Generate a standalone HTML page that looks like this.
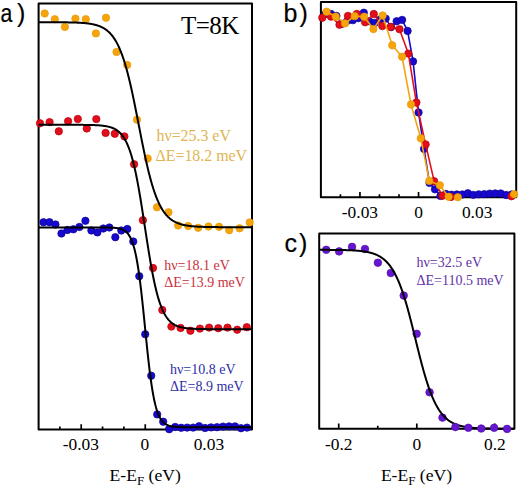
<!DOCTYPE html>
<html><head><meta charset="utf-8"><title>Fermi edge</title>
<style>html,body{margin:0;padding:0;background:#fff;width:520px;height:487px;overflow:hidden}svg{display:block}</style>
</head><body>
<svg width="520" height="487" viewBox="0 0 520 487"><rect width="520" height="487" fill="#fff"/><rect x="38.6" y="3.6" width="213.40" height="425.90" fill="none" stroke="#000" stroke-width="2" stroke-linejoin="round"/><path d="M59.85,429.50 V426.50 M81.20,429.50 V424.30 M102.55,429.50 V426.50 M123.90,429.50 V426.50 M145.25,429.50 V424.30 M166.60,429.50 V426.50 M187.95,429.50 V426.50 M209.30,429.50 V424.30 M230.65,429.50 V426.50" stroke="#000" stroke-width="1.7" fill="none"/><g fill="#F5A40C" stroke="#E89A08" stroke-width="0.7"><circle cx="44.70" cy="13.50" r="3.7"/><circle cx="54.80" cy="19.20" r="3.7"/><circle cx="64.90" cy="26.90" r="3.7"/><circle cx="75.40" cy="18.60" r="3.7"/><circle cx="85.80" cy="19.20" r="3.7"/><circle cx="95.90" cy="33.40" r="3.7"/><circle cx="106.00" cy="17.80" r="3.7"/><circle cx="116.50" cy="52.00" r="3.7"/><circle cx="127.20" cy="65.00" r="3.7"/><circle cx="137.00" cy="119.70" r="3.7"/><circle cx="147.70" cy="158.50" r="3.7"/><circle cx="157.00" cy="207.30" r="3.7"/><circle cx="168.50" cy="212.30" r="3.7"/><circle cx="178.10" cy="225.50" r="3.7"/><circle cx="188.20" cy="226.00" r="3.7"/><circle cx="198.20" cy="227.80" r="3.7"/><circle cx="208.50" cy="226.50" r="3.7"/><circle cx="219.10" cy="226.80" r="3.7"/><circle cx="229.20" cy="230.20" r="3.7"/><circle cx="239.60" cy="228.30" r="3.7"/><circle cx="249.70" cy="222.50" r="3.7"/></g><g fill="#E20E1A" stroke="#B8000E" stroke-width="0.7"><circle cx="40.00" cy="123.30" r="3.7"/><circle cx="49.60" cy="122.10" r="3.7"/><circle cx="58.80" cy="131.30" r="3.7"/><circle cx="68.10" cy="121.20" r="3.7"/><circle cx="77.80" cy="119.00" r="3.7"/><circle cx="86.80" cy="128.50" r="3.7"/><circle cx="96.30" cy="119.10" r="3.7"/><circle cx="105.60" cy="132.90" r="3.7"/><circle cx="114.80" cy="133.80" r="3.7"/><circle cx="124.40" cy="136.40" r="3.7"/><circle cx="134.10" cy="164.30" r="3.7"/><circle cx="142.90" cy="220.20" r="3.7"/><circle cx="153.00" cy="268.00" r="3.7"/><circle cx="162.30" cy="310.00" r="3.7"/><circle cx="171.40" cy="326.60" r="3.7"/><circle cx="180.60" cy="328.00" r="3.7"/><circle cx="190.40" cy="330.70" r="3.7"/><circle cx="199.90" cy="328.60" r="3.7"/><circle cx="209.10" cy="327.60" r="3.7"/><circle cx="218.30" cy="328.20" r="3.7"/><circle cx="227.50" cy="327.60" r="3.7"/><circle cx="237.20" cy="329.70" r="3.7"/><circle cx="246.80" cy="327.20" r="3.7"/></g><g fill="#1608CC" stroke="#10049A" stroke-width="0.7"><circle cx="43.50" cy="222.30" r="3.7"/><circle cx="49.48" cy="222.20" r="3.7"/><circle cx="55.47" cy="224.50" r="3.7"/><circle cx="61.45" cy="233.50" r="3.7"/><circle cx="67.44" cy="230.00" r="3.7"/><circle cx="73.42" cy="229.30" r="3.7"/><circle cx="79.41" cy="227.00" r="3.7"/><circle cx="85.40" cy="220.80" r="3.7"/><circle cx="91.38" cy="230.50" r="3.7"/><circle cx="97.37" cy="232.40" r="3.7"/><circle cx="103.35" cy="228.50" r="3.7"/><circle cx="109.34" cy="227.50" r="3.7"/><circle cx="115.32" cy="237.20" r="3.7"/><circle cx="121.31" cy="230.50" r="3.7"/><circle cx="127.29" cy="229.00" r="3.7"/><circle cx="133.28" cy="241.50" r="3.7"/><circle cx="139.26" cy="276.20" r="3.7"/><circle cx="145.25" cy="334.30" r="3.7"/><circle cx="151.23" cy="375.70" r="3.7"/><circle cx="157.22" cy="414.40" r="3.7"/><circle cx="163.20" cy="421.70" r="3.7"/><circle cx="169.19" cy="429.20" r="3.7"/><circle cx="175.17" cy="427.00" r="3.7"/><circle cx="181.16" cy="427.80" r="3.7"/><circle cx="187.14" cy="427.60" r="3.7"/><circle cx="193.12" cy="427.60" r="3.7"/><circle cx="199.11" cy="426.20" r="3.7"/><circle cx="205.09" cy="428.00" r="3.7"/><circle cx="211.08" cy="427.40" r="3.7"/><circle cx="217.06" cy="427.20" r="3.7"/><circle cx="223.05" cy="426.60" r="3.7"/><circle cx="229.03" cy="426.40" r="3.7"/><circle cx="235.02" cy="426.40" r="3.7"/><circle cx="241.01" cy="428.20" r="3.7"/><circle cx="246.99" cy="427.60" r="3.7"/></g><path d="M38.60,22.21 L39.10,22.21 L39.60,22.21 L40.10,22.21 L40.60,22.21 L41.10,22.21 L41.60,22.21 L42.10,22.21 L42.60,22.21 L43.10,22.21 L43.60,22.22 L44.10,22.22 L44.60,22.22 L45.10,22.22 L45.60,22.22 L46.10,22.22 L46.60,22.22 L47.10,22.22 L47.60,22.22 L48.10,22.22 L48.60,22.23 L49.10,22.23 L49.60,22.23 L50.10,22.23 L50.60,22.23 L51.10,22.23 L51.60,22.23 L52.10,22.24 L52.60,22.24 L53.10,22.24 L53.60,22.24 L54.10,22.24 L54.60,22.25 L55.10,22.25 L55.60,22.25 L56.10,22.25 L56.60,22.26 L57.10,22.26 L57.60,22.26 L58.10,22.26 L58.60,22.27 L59.10,22.27 L59.60,22.28 L60.10,22.28 L60.60,22.28 L61.10,22.29 L61.60,22.29 L62.10,22.30 L62.60,22.30 L63.10,22.31 L63.60,22.31 L64.10,22.32 L64.60,22.32 L65.10,22.33 L65.60,22.34 L66.10,22.34 L66.60,22.35 L67.10,22.36 L67.60,22.37 L68.10,22.38 L68.60,22.38 L69.10,22.39 L69.60,22.40 L70.10,22.41 L70.60,22.43 L71.10,22.44 L71.60,22.45 L72.10,22.46 L72.60,22.48 L73.10,22.49 L73.60,22.50 L74.10,22.52 L74.60,22.54 L75.10,22.55 L75.60,22.57 L76.10,22.59 L76.60,22.61 L77.10,22.63 L77.60,22.65 L78.10,22.68 L78.60,22.70 L79.10,22.73 L79.60,22.75 L80.10,22.78 L80.60,22.81 L81.10,22.84 L81.60,22.88 L82.10,22.91 L82.60,22.95 L83.10,22.99 L83.60,23.03 L84.10,23.07 L84.60,23.11 L85.10,23.16 L85.60,23.21 L86.10,23.26 L86.60,23.31 L87.10,23.37 L87.60,23.43 L88.10,23.49 L88.60,23.56 L89.10,23.63 L89.60,23.70 L90.10,23.78 L90.60,23.86 L91.10,23.94 L91.60,24.03 L92.10,24.12 L92.60,24.22 L93.10,24.32 L93.60,24.43 L94.10,24.54 L94.60,24.66 L95.10,24.79 L95.60,24.92 L96.10,25.05 L96.60,25.20 L97.10,25.35 L97.60,25.51 L98.10,25.68 L98.60,25.85 L99.10,26.03 L99.60,26.23 L100.10,26.43 L100.60,26.64 L101.10,26.86 L101.60,27.10 L102.10,27.34 L102.60,27.60 L103.10,27.87 L103.60,28.15 L104.10,28.45 L104.60,28.76 L105.10,29.08 L105.60,29.42 L106.10,29.78 L106.60,30.15 L107.10,30.54 L107.60,30.95 L108.10,31.38 L108.60,31.83 L109.10,32.30 L109.60,32.79 L110.10,33.30 L110.60,33.84 L111.10,34.40 L111.60,34.99 L112.10,35.60 L112.60,36.24 L113.10,36.91 L113.60,37.61 L114.10,38.34 L114.60,39.09 L115.10,39.89 L115.60,40.71 L116.10,41.57 L116.60,42.47 L117.10,43.40 L117.60,44.37 L118.10,45.37 L118.60,46.42 L119.10,47.51 L119.60,48.64 L120.10,49.81 L120.60,51.03 L121.10,52.29 L121.60,53.60 L122.10,54.95 L122.60,56.35 L123.10,57.80 L123.60,59.29 L124.10,60.84 L124.60,62.43 L125.10,64.07 L125.60,65.76 L126.10,67.50 L126.60,69.29 L127.10,71.13 L127.60,73.01 L128.10,74.95 L128.60,76.93 L129.10,78.96 L129.60,81.03 L130.10,83.15 L130.60,85.32 L131.10,87.52 L131.60,89.77 L132.10,92.05 L132.60,94.37 L133.10,96.73 L133.60,99.11 L134.10,101.53 L134.60,103.98 L135.10,106.45 L135.60,108.94 L136.10,111.45 L136.60,113.98 L137.10,116.52 L137.60,119.07 L138.10,121.63 L138.60,124.19 L139.10,126.75 L139.60,129.31 L140.10,131.86 L140.60,134.41 L141.10,136.94 L141.60,139.46 L142.10,141.96 L142.60,144.44 L143.10,146.89 L143.60,149.32 L144.10,151.72 L144.60,154.09 L145.10,156.42 L145.60,158.72 L146.10,160.98 L146.60,163.21 L147.10,165.39 L147.60,167.52 L148.10,169.62 L148.60,171.66 L149.10,173.66 L149.60,175.62 L150.10,177.52 L150.60,179.38 L151.10,181.19 L151.60,182.95 L152.10,184.66 L152.60,186.32 L153.10,187.93 L153.60,189.50 L154.10,191.01 L154.60,192.48 L155.10,193.89 L155.60,195.27 L156.10,196.59 L156.60,197.87 L157.10,199.10 L157.60,200.29 L158.10,201.44 L158.60,202.55 L159.10,203.61 L159.60,204.64 L160.10,205.62 L160.60,206.57 L161.10,207.48 L161.60,208.35 L162.10,209.19 L162.60,209.99 L163.10,210.76 L163.60,211.50 L164.10,212.21 L164.60,212.89 L165.10,213.55 L165.60,214.17 L166.10,214.77 L166.60,215.34 L167.10,215.88 L167.60,216.41 L168.10,216.91 L168.60,217.38 L169.10,217.84 L169.60,218.28 L170.10,218.70 L170.60,219.09 L171.10,219.47 L171.60,219.84 L172.10,220.18 L172.60,220.52 L173.10,220.83 L173.60,221.13 L174.10,221.42 L174.60,221.69 L175.10,221.96 L175.60,222.21 L176.10,222.44 L176.60,222.67 L177.10,222.89 L177.60,223.09 L178.10,223.29 L178.60,223.48 L179.10,223.65 L179.60,223.82 L180.10,223.99 L180.60,224.14 L181.10,224.29 L181.60,224.43 L182.10,224.56 L182.60,224.69 L183.10,224.81 L183.60,224.93 L184.10,225.04 L184.60,225.14 L185.10,225.24 L185.60,225.33 L186.10,225.42 L186.60,225.51 L187.10,225.59 L187.60,225.67 L188.10,225.74 L188.60,225.81 L189.10,225.88 L189.60,225.95 L190.10,226.01 L190.60,226.06 L191.10,226.12 L191.60,226.17 L192.10,226.22 L192.60,226.27 L193.10,226.31 L193.60,226.36 L194.10,226.40 L194.60,226.44 L195.10,226.47 L195.60,226.51 L196.10,226.54 L196.60,226.58 L197.10,226.61 L197.60,226.63 L198.10,226.66 L198.60,226.69 L199.10,226.71 L199.60,226.74 L200.10,226.76 L200.60,226.78 L201.10,226.80 L201.60,226.82 L202.10,226.84 L202.60,226.86 L203.10,226.87 L203.60,226.89 L204.10,226.90 L204.60,226.92 L205.10,226.93 L205.60,226.95 L206.10,226.96 L206.60,226.97 L207.10,226.98 L207.60,226.99 L208.10,227.00 L208.60,227.01 L209.10,227.02 L209.60,227.03 L210.10,227.04 L210.60,227.05 L211.10,227.05 L211.60,227.06 L212.10,227.07 L212.60,227.07 L213.10,227.08 L213.60,227.09 L214.10,227.09 L214.60,227.10 L215.10,227.10 L215.60,227.11 L216.10,227.11 L216.60,227.12 L217.10,227.12 L217.60,227.12 L218.10,227.13 L218.60,227.13 L219.10,227.13 L219.60,227.14 L220.10,227.14 L220.60,227.14 L221.10,227.15 L221.60,227.15 L222.10,227.15 L222.60,227.15 L223.10,227.16 L223.60,227.16 L224.10,227.16 L224.60,227.16 L225.10,227.16 L225.60,227.17 L226.10,227.17 L226.60,227.17 L227.10,227.17 L227.60,227.17 L228.10,227.17 L228.60,227.17 L229.10,227.18 L229.60,227.18 L230.10,227.18 L230.60,227.18 L231.10,227.18 L231.60,227.18 L232.10,227.18 L232.60,227.18 L233.10,227.18 L233.60,227.18 L234.10,227.19 L234.60,227.19 L235.10,227.19 L235.60,227.19 L236.10,227.19 L236.60,227.19 L237.10,227.19 L237.60,227.19 L238.10,227.19 L238.60,227.19 L239.10,227.19 L239.60,227.19 L240.10,227.19 L240.60,227.19 L241.10,227.19 L241.60,227.19 L242.10,227.19 L242.60,227.19 L243.10,227.19 L243.60,227.19 L244.10,227.19 L244.60,227.19 L245.10,227.20 L245.60,227.20 L246.10,227.20 L246.60,227.20 L247.10,227.20 L247.60,227.20 L248.10,227.20 L248.60,227.20 L249.10,227.20 L249.60,227.20 L250.10,227.20 L250.60,227.20 L251.10,227.20 L251.60,227.20" stroke="#000" stroke-width="2" fill="none"/><path d="M38.60,124.80 L39.10,124.80 L39.60,124.80 L40.10,124.80 L40.60,124.80 L41.10,124.80 L41.60,124.80 L42.10,124.80 L42.60,124.80 L43.10,124.80 L43.60,124.80 L44.10,124.80 L44.60,124.80 L45.10,124.80 L45.60,124.80 L46.10,124.80 L46.60,124.80 L47.10,124.80 L47.60,124.80 L48.10,124.80 L48.60,124.80 L49.10,124.80 L49.60,124.80 L50.10,124.80 L50.60,124.80 L51.10,124.80 L51.60,124.80 L52.10,124.80 L52.60,124.80 L53.10,124.80 L53.60,124.80 L54.10,124.80 L54.60,124.80 L55.10,124.80 L55.60,124.80 L56.10,124.80 L56.60,124.80 L57.10,124.80 L57.60,124.80 L58.10,124.80 L58.60,124.80 L59.10,124.80 L59.60,124.80 L60.10,124.80 L60.60,124.80 L61.10,124.80 L61.60,124.80 L62.10,124.81 L62.60,124.81 L63.10,124.81 L63.60,124.81 L64.10,124.81 L64.60,124.81 L65.10,124.81 L65.60,124.81 L66.10,124.81 L66.60,124.81 L67.10,124.81 L67.60,124.81 L68.10,124.81 L68.60,124.81 L69.10,124.81 L69.60,124.81 L70.10,124.81 L70.60,124.81 L71.10,124.82 L71.60,124.82 L72.10,124.82 L72.60,124.82 L73.10,124.82 L73.60,124.82 L74.10,124.82 L74.60,124.82 L75.10,124.83 L75.60,124.83 L76.10,124.83 L76.60,124.83 L77.10,124.83 L77.60,124.84 L78.10,124.84 L78.60,124.84 L79.10,124.84 L79.60,124.85 L80.10,124.85 L80.60,124.85 L81.10,124.86 L81.60,124.86 L82.10,124.87 L82.60,124.87 L83.10,124.87 L83.60,124.88 L84.10,124.88 L84.60,124.89 L85.10,124.90 L85.60,124.90 L86.10,124.91 L86.60,124.92 L87.10,124.92 L87.60,124.93 L88.10,124.94 L88.60,124.95 L89.10,124.96 L89.60,124.97 L90.10,124.98 L90.60,124.99 L91.10,125.01 L91.60,125.02 L92.10,125.03 L92.60,125.05 L93.10,125.07 L93.60,125.08 L94.10,125.10 L94.60,125.12 L95.10,125.14 L95.60,125.17 L96.10,125.19 L96.60,125.22 L97.10,125.24 L97.60,125.27 L98.10,125.31 L98.60,125.34 L99.10,125.37 L99.60,125.41 L100.10,125.45 L100.60,125.50 L101.10,125.54 L101.60,125.59 L102.10,125.64 L102.60,125.70 L103.10,125.76 L103.60,125.82 L104.10,125.89 L104.60,125.96 L105.10,126.04 L105.60,126.12 L106.10,126.20 L106.60,126.30 L107.10,126.39 L107.60,126.50 L108.10,126.61 L108.60,126.73 L109.10,126.85 L109.60,126.99 L110.10,127.13 L110.60,127.29 L111.10,127.45 L111.60,127.62 L112.10,127.80 L112.60,128.00 L113.10,128.21 L113.60,128.43 L114.10,128.67 L114.60,128.92 L115.10,129.18 L115.60,129.47 L116.10,129.77 L116.60,130.09 L117.10,130.43 L117.60,130.79 L118.10,131.18 L118.60,131.58 L119.10,132.02 L119.60,132.48 L120.10,132.96 L120.60,133.48 L121.10,134.03 L121.60,134.61 L122.10,135.23 L122.60,135.88 L123.10,136.57 L123.60,137.31 L124.10,138.08 L124.60,138.90 L125.10,139.76 L125.60,140.68 L126.10,141.64 L126.60,142.66 L127.10,143.73 L127.60,144.86 L128.10,146.05 L128.60,147.30 L129.10,148.62 L129.60,150.00 L130.10,151.45 L130.60,152.97 L131.10,154.57 L131.60,156.24 L132.10,157.98 L132.60,159.80 L133.10,161.70 L133.60,163.68 L134.10,165.73 L134.60,167.87 L135.10,170.09 L135.60,172.39 L136.10,174.77 L136.60,177.23 L137.10,179.77 L137.60,182.39 L138.10,185.07 L138.60,187.83 L139.10,190.66 L139.60,193.56 L140.10,196.51 L140.60,199.52 L141.10,202.59 L141.60,205.70 L142.10,208.85 L142.60,212.04 L143.10,215.26 L143.60,218.50 L144.10,221.76 L144.60,225.03 L145.10,228.31 L145.60,231.58 L146.10,234.85 L146.60,238.09 L147.10,241.32 L147.60,244.51 L148.10,247.67 L148.60,250.80 L149.10,253.87 L149.60,256.89 L150.10,259.86 L150.60,262.76 L151.10,265.61 L151.60,268.38 L152.10,271.08 L152.60,273.71 L153.10,276.26 L153.60,278.74 L154.10,281.14 L154.60,283.45 L155.10,285.69 L155.60,287.84 L156.10,289.92 L156.60,291.91 L157.10,293.83 L157.60,295.66 L158.10,297.42 L158.60,299.10 L159.10,300.71 L159.60,302.25 L160.10,303.71 L160.60,305.11 L161.10,306.44 L161.60,307.70 L162.10,308.90 L162.60,310.05 L163.10,311.13 L163.60,312.16 L164.10,313.13 L164.60,314.06 L165.10,314.93 L165.60,315.76 L166.10,316.54 L166.60,317.28 L167.10,317.98 L167.60,318.64 L168.10,319.27 L168.60,319.86 L169.10,320.41 L169.60,320.93 L170.10,321.43 L170.60,321.89 L171.10,322.33 L171.60,322.74 L172.10,323.13 L172.60,323.50 L173.10,323.84 L173.60,324.17 L174.10,324.47 L174.60,324.76 L175.10,325.03 L175.60,325.28 L176.10,325.52 L176.60,325.75 L177.10,325.96 L177.60,326.16 L178.10,326.34 L178.60,326.52 L179.10,326.68 L179.60,326.84 L180.10,326.98 L180.60,327.12 L181.10,327.25 L181.60,327.37 L182.10,327.48 L182.60,327.59 L183.10,327.69 L183.60,327.78 L184.10,327.87 L184.60,327.95 L185.10,328.03 L185.60,328.10 L186.10,328.17 L186.60,328.23 L187.10,328.29 L187.60,328.35 L188.10,328.40 L188.60,328.45 L189.10,328.50 L189.60,328.54 L190.10,328.58 L190.60,328.62 L191.10,328.65 L191.60,328.69 L192.10,328.72 L192.60,328.75 L193.10,328.78 L193.60,328.80 L194.10,328.83 L194.60,328.85 L195.10,328.87 L195.60,328.89 L196.10,328.91 L196.60,328.93 L197.10,328.95 L197.60,328.96 L198.10,328.98 L198.60,328.99 L199.10,329.00 L199.60,329.02 L200.10,329.03 L200.60,329.04 L201.10,329.05 L201.60,329.06 L202.10,329.07 L202.60,329.07 L203.10,329.08 L203.60,329.09 L204.10,329.10 L204.60,329.10 L205.10,329.11 L205.60,329.11 L206.10,329.12 L206.60,329.13 L207.10,329.13 L207.60,329.13 L208.10,329.14 L208.60,329.14 L209.10,329.15 L209.60,329.15 L210.10,329.15 L210.60,329.16 L211.10,329.16 L211.60,329.16 L212.10,329.16 L212.60,329.17 L213.10,329.17 L213.60,329.17 L214.10,329.17 L214.60,329.17 L215.10,329.17 L215.60,329.18 L216.10,329.18 L216.60,329.18 L217.10,329.18 L217.60,329.18 L218.10,329.18 L218.60,329.18 L219.10,329.18 L219.60,329.19 L220.10,329.19 L220.60,329.19 L221.10,329.19 L221.60,329.19 L222.10,329.19 L222.60,329.19 L223.10,329.19 L223.60,329.19 L224.10,329.19 L224.60,329.19 L225.10,329.19 L225.60,329.19 L226.10,329.19 L226.60,329.19 L227.10,329.19 L227.60,329.19 L228.10,329.20 L228.60,329.20 L229.10,329.20 L229.60,329.20 L230.10,329.20 L230.60,329.20 L231.10,329.20 L231.60,329.20 L232.10,329.20 L232.60,329.20 L233.10,329.20 L233.60,329.20 L234.10,329.20 L234.60,329.20 L235.10,329.20 L235.60,329.20 L236.10,329.20 L236.60,329.20 L237.10,329.20 L237.60,329.20 L238.10,329.20 L238.60,329.20 L239.10,329.20 L239.60,329.20 L240.10,329.20 L240.60,329.20 L241.10,329.20 L241.60,329.20 L242.10,329.20 L242.60,329.20 L243.10,329.20 L243.60,329.20 L244.10,329.20 L244.60,329.20 L245.10,329.20 L245.60,329.20 L246.10,329.20 L246.60,329.20 L247.10,329.20 L247.60,329.20 L248.10,329.20 L248.60,329.20 L249.10,329.20 L249.60,329.20 L250.10,329.20 L250.60,329.20 L251.10,329.20 L251.60,329.20" stroke="#000" stroke-width="2" fill="none"/><path d="M38.60,227.40 L39.10,227.40 L39.60,227.40 L40.10,227.40 L40.60,227.40 L41.10,227.40 L41.60,227.40 L42.10,227.40 L42.60,227.40 L43.10,227.40 L43.60,227.40 L44.10,227.40 L44.60,227.40 L45.10,227.40 L45.60,227.40 L46.10,227.40 L46.60,227.40 L47.10,227.40 L47.60,227.40 L48.10,227.40 L48.60,227.40 L49.10,227.40 L49.60,227.40 L50.10,227.40 L50.60,227.40 L51.10,227.40 L51.60,227.40 L52.10,227.40 L52.60,227.40 L53.10,227.40 L53.60,227.40 L54.10,227.40 L54.60,227.40 L55.10,227.40 L55.60,227.40 L56.10,227.40 L56.60,227.40 L57.10,227.40 L57.60,227.40 L58.10,227.40 L58.60,227.40 L59.10,227.40 L59.60,227.40 L60.10,227.40 L60.60,227.40 L61.10,227.40 L61.60,227.40 L62.10,227.40 L62.60,227.40 L63.10,227.40 L63.60,227.40 L64.10,227.40 L64.60,227.40 L65.10,227.40 L65.60,227.40 L66.10,227.40 L66.60,227.40 L67.10,227.40 L67.60,227.40 L68.10,227.40 L68.60,227.40 L69.10,227.40 L69.60,227.40 L70.10,227.40 L70.60,227.40 L71.10,227.40 L71.60,227.40 L72.10,227.40 L72.60,227.40 L73.10,227.40 L73.60,227.40 L74.10,227.40 L74.60,227.40 L75.10,227.40 L75.60,227.40 L76.10,227.40 L76.60,227.40 L77.10,227.40 L77.60,227.40 L78.10,227.40 L78.60,227.40 L79.10,227.40 L79.60,227.40 L80.10,227.40 L80.60,227.40 L81.10,227.40 L81.60,227.40 L82.10,227.40 L82.60,227.40 L83.10,227.40 L83.60,227.40 L84.10,227.40 L84.60,227.40 L85.10,227.40 L85.60,227.40 L86.10,227.40 L86.60,227.40 L87.10,227.40 L87.60,227.40 L88.10,227.40 L88.60,227.40 L89.10,227.40 L89.60,227.40 L90.10,227.40 L90.60,227.40 L91.10,227.40 L91.60,227.40 L92.10,227.41 L92.60,227.41 L93.10,227.41 L93.60,227.41 L94.10,227.41 L94.60,227.41 L95.10,227.41 L95.60,227.41 L96.10,227.41 L96.60,227.41 L97.10,227.41 L97.60,227.42 L98.10,227.42 L98.60,227.42 L99.10,227.42 L99.60,227.42 L100.10,227.43 L100.60,227.43 L101.10,227.43 L101.60,227.43 L102.10,227.44 L102.60,227.44 L103.10,227.45 L103.60,227.45 L104.10,227.46 L104.60,227.46 L105.10,227.47 L105.60,227.48 L106.10,227.48 L106.60,227.49 L107.10,227.50 L107.60,227.51 L108.10,227.52 L108.60,227.54 L109.10,227.55 L109.60,227.57 L110.10,227.59 L110.60,227.61 L111.10,227.63 L111.60,227.65 L112.10,227.68 L112.60,227.71 L113.10,227.74 L113.60,227.77 L114.10,227.81 L114.60,227.86 L115.10,227.90 L115.60,227.96 L116.10,228.02 L116.60,228.08 L117.10,228.15 L117.60,228.23 L118.10,228.32 L118.60,228.41 L119.10,228.52 L119.60,228.64 L120.10,228.76 L120.60,228.91 L121.10,229.06 L121.60,229.24 L122.10,229.43 L122.60,229.64 L123.10,229.87 L123.60,230.13 L124.10,230.41 L124.60,230.72 L125.10,231.07 L125.60,231.44 L126.10,231.86 L126.60,232.32 L127.10,232.82 L127.60,233.37 L128.10,233.98 L128.60,234.65 L129.10,235.38 L129.60,236.18 L130.10,237.06 L130.60,238.02 L131.10,239.08 L131.60,240.23 L132.10,241.48 L132.60,242.85 L133.10,244.33 L133.60,245.95 L134.10,247.70 L134.60,249.60 L135.10,251.65 L135.60,253.86 L136.10,256.25 L136.60,258.80 L137.10,261.54 L137.60,264.47 L138.10,267.58 L138.60,270.89 L139.10,274.39 L139.60,278.08 L140.10,281.95 L140.60,286.01 L141.10,290.23 L141.60,294.62 L142.10,299.15 L142.60,303.81 L143.10,308.58 L143.60,313.45 L144.10,318.38 L144.60,323.35 L145.10,328.35 L145.60,333.34 L146.10,338.30 L146.60,343.21 L147.10,348.04 L147.60,352.77 L148.10,357.38 L148.60,361.85 L149.10,366.18 L149.60,370.34 L150.10,374.32 L150.60,378.12 L151.10,381.74 L151.60,385.16 L152.10,388.39 L152.60,391.43 L153.10,394.28 L153.60,396.94 L154.10,399.43 L154.60,401.74 L155.10,403.89 L155.60,405.88 L156.10,407.72 L156.60,409.41 L157.10,410.98 L157.60,412.41 L158.10,413.73 L158.60,414.95 L159.10,416.06 L159.60,417.07 L160.10,418.00 L160.60,418.85 L161.10,419.62 L161.60,420.33 L162.10,420.97 L162.60,421.55 L163.10,422.09 L163.60,422.57 L164.10,423.01 L164.60,423.41 L165.10,423.77 L165.60,424.10 L166.10,424.40 L166.60,424.68 L167.10,424.92 L167.60,425.15 L168.10,425.35 L168.60,425.53 L169.10,425.70 L169.60,425.85 L170.10,425.99 L170.60,426.11 L171.10,426.22 L171.60,426.33 L172.10,426.42 L172.60,426.50 L173.10,426.58 L173.60,426.65 L174.10,426.71 L174.60,426.76 L175.10,426.82 L175.60,426.86 L176.10,426.90 L176.60,426.94 L177.10,426.97 L177.60,427.01 L178.10,427.03 L178.60,427.06 L179.10,427.08 L179.60,427.10 L180.10,427.12 L180.60,427.14 L181.10,427.15 L181.60,427.17 L182.10,427.18 L182.60,427.19 L183.10,427.20 L183.60,427.21 L184.10,427.22 L184.60,427.23 L185.10,427.23 L185.60,427.24 L186.10,427.25 L186.60,427.25 L187.10,427.26 L187.60,427.26 L188.10,427.26 L188.60,427.27 L189.10,427.27 L189.60,427.27 L190.10,427.28 L190.60,427.28 L191.10,427.28 L191.60,427.28 L192.10,427.28 L192.60,427.29 L193.10,427.29 L193.60,427.29 L194.10,427.29 L194.60,427.29 L195.10,427.29 L195.60,427.29 L196.10,427.29 L196.60,427.29 L197.10,427.29 L197.60,427.29 L198.10,427.30 L198.60,427.30 L199.10,427.30 L199.60,427.30 L200.10,427.30 L200.60,427.30 L201.10,427.30 L201.60,427.30 L202.10,427.30 L202.60,427.30 L203.10,427.30 L203.60,427.30 L204.10,427.30 L204.60,427.30 L205.10,427.30 L205.60,427.30 L206.10,427.30 L206.60,427.30 L207.10,427.30 L207.60,427.30 L208.10,427.30 L208.60,427.30 L209.10,427.30 L209.60,427.30 L210.10,427.30 L210.60,427.30 L211.10,427.30 L211.60,427.30 L212.10,427.30 L212.60,427.30 L213.10,427.30 L213.60,427.30 L214.10,427.30 L214.60,427.30 L215.10,427.30 L215.60,427.30 L216.10,427.30 L216.60,427.30 L217.10,427.30 L217.60,427.30 L218.10,427.30 L218.60,427.30 L219.10,427.30 L219.60,427.30 L220.10,427.30 L220.60,427.30 L221.10,427.30 L221.60,427.30 L222.10,427.30 L222.60,427.30 L223.10,427.30 L223.60,427.30 L224.10,427.30 L224.60,427.30 L225.10,427.30 L225.60,427.30 L226.10,427.30 L226.60,427.30 L227.10,427.30 L227.60,427.30 L228.10,427.30 L228.60,427.30 L229.10,427.30 L229.60,427.30 L230.10,427.30 L230.60,427.30 L231.10,427.30 L231.60,427.30 L232.10,427.30 L232.60,427.30 L233.10,427.30 L233.60,427.30 L234.10,427.30 L234.60,427.30 L235.10,427.30 L235.60,427.30 L236.10,427.30 L236.60,427.30 L237.10,427.30 L237.60,427.30 L238.10,427.30 L238.60,427.30 L239.10,427.30 L239.60,427.30 L240.10,427.30 L240.60,427.30 L241.10,427.30 L241.60,427.30 L242.10,427.30 L242.60,427.30 L243.10,427.30 L243.60,427.30 L244.10,427.30 L244.60,427.30 L245.10,427.30 L245.60,427.30 L246.10,427.30 L246.60,427.30 L247.10,427.30 L247.60,427.30 L248.10,427.30 L248.60,427.30 L249.10,427.30 L249.60,427.30 L250.10,427.30 L250.60,427.30 L251.10,427.30 L251.60,427.30" stroke="#000" stroke-width="2" fill="none"/><rect x="320.9" y="2.1" width="195.30" height="195.10" fill="none" stroke="#000" stroke-width="2" stroke-linejoin="round"/><path d="M340.43,197.20 V194.20 M359.96,197.20 V192.00 M379.49,197.20 V194.20 M399.02,197.20 V194.20 M418.55,197.20 V192.00 M438.08,197.20 V194.20 M457.61,197.20 V194.20 M477.14,197.20 V192.00 M496.67,197.20 V194.20" stroke="#000" stroke-width="1.7" fill="none"/><clipPath id="cb"><rect x="320.9" y="0" width="199.30" height="197.20"/></clipPath><clipPath id="cb2"><rect x="320.9" y="0" width="199.30" height="195.2"/></clipPath><path d="M325.47,14.02 L330.95,13.93 L336.42,15.95 L341.90,23.86 L347.37,20.79 L352.85,20.17 L358.32,18.15 L363.80,12.70 L369.27,21.23 L374.75,22.90 L380.22,19.47 L385.70,18.59 L391.17,27.12 L396.65,21.23 L402.12,19.91 L407.60,30.90 L413.07,61.40 L418.55,112.48 L424.02,148.88 L429.50,182.91 L434.97,189.32 L440.44,195.92 L445.92,193.98 L451.39,194.69 L456.87,194.51 L462.34,194.51 L467.82,193.28 L473.29,194.86 L478.77,194.33 L484.24,194.16 L489.72,193.63 L495.19,193.46 L500.67,193.46 L506.14,195.04 L511.62,194.51" stroke="#1608CC" stroke-width="1.6" fill="none" stroke-linejoin="round" clip-path="url(#cb)"/><g fill="#1608CC" stroke="#10049A" stroke-width="0.7"><circle cx="325.47" cy="14.02" r="3.7"/><circle cx="330.95" cy="13.93" r="3.7"/><circle cx="336.42" cy="15.95" r="3.7"/><circle cx="341.90" cy="23.86" r="3.7"/><circle cx="347.37" cy="20.79" r="3.7"/><circle cx="352.85" cy="20.17" r="3.7"/><circle cx="358.32" cy="18.15" r="3.7"/><circle cx="363.80" cy="12.70" r="3.7"/><circle cx="369.27" cy="21.23" r="3.7"/><circle cx="374.75" cy="22.90" r="3.7"/><circle cx="380.22" cy="19.47" r="3.7"/><circle cx="385.70" cy="18.59" r="3.7"/><circle cx="391.17" cy="27.12" r="3.7"/><circle cx="396.65" cy="21.23" r="3.7"/><circle cx="402.12" cy="19.91" r="3.7"/><circle cx="407.60" cy="30.90" r="3.7"/><circle cx="413.07" cy="61.40" r="3.7"/><circle cx="418.55" cy="112.48" r="3.7"/><circle cx="424.02" cy="148.88" r="3.7"/><circle cx="429.50" cy="182.91" r="3.7"/><circle cx="434.97" cy="189.32" r="3.7"/><circle cx="440.44" cy="195.92" r="3.7"/><circle cx="445.92" cy="193.98" r="3.7"/><circle cx="451.39" cy="194.69" r="3.7"/><circle cx="456.87" cy="194.51" r="3.7"/><circle cx="462.34" cy="194.51" r="3.7"/><circle cx="467.82" cy="193.28" r="3.7"/><circle cx="473.29" cy="194.86" r="3.7"/><circle cx="478.77" cy="194.33" r="3.7"/><circle cx="484.24" cy="194.16" r="3.7"/><circle cx="489.72" cy="193.63" r="3.7"/><circle cx="495.19" cy="193.46" r="3.7"/><circle cx="500.67" cy="193.46" r="3.7"/><circle cx="506.14" cy="195.04" r="3.7"/><circle cx="511.62" cy="194.51" r="3.7"/></g><path d="M322.27,17.69 L331.05,16.64 L339.47,24.69 L347.98,15.85 L356.85,13.92 L365.08,22.24 L373.77,14.01 L382.28,26.09 L390.70,26.88 L399.48,29.16 L408.35,53.59 L416.40,102.55 L425.64,144.41 L434.15,181.19 L442.47,195.72 L450.89,196.95 L459.85,199.31 L468.54,197.47 L476.96,196.60 L485.37,197.12 L493.79,196.60 L502.66,198.44 L511.44,196.25" stroke="#E20E1A" stroke-width="1.6" fill="none" stroke-linejoin="round" clip-path="url(#cb2)"/><g fill="#E20E1A" stroke="#B8000E" stroke-width="0.7"><circle cx="322.27" cy="17.69" r="3.7"/><circle cx="331.05" cy="16.64" r="3.7"/><circle cx="339.47" cy="24.69" r="3.7"/><circle cx="347.98" cy="15.85" r="3.7"/><circle cx="356.85" cy="13.92" r="3.7"/><circle cx="365.08" cy="22.24" r="3.7"/><circle cx="373.77" cy="14.01" r="3.7"/><circle cx="382.28" cy="26.09" r="3.7"/><circle cx="390.70" cy="26.88" r="3.7"/><circle cx="399.48" cy="29.16" r="3.7"/><circle cx="408.35" cy="53.59" r="3.7"/><circle cx="416.40" cy="102.55" r="3.7"/><circle cx="425.64" cy="144.41" r="3.7"/><circle cx="434.15" cy="181.19" r="3.7"/><circle cx="442.47" cy="195.72" r="3.7"/><circle cx="450.89" cy="196.95" r="3.7"/><circle cx="511.44" cy="196.25" r="3.7"/></g><path d="M326.57,11.70 L335.81,16.68 L345.05,23.40 L354.65,16.16 L364.17,16.68 L373.41,29.08 L382.65,15.46 L392.25,45.32 L402.04,56.67 L411.00,104.43 L420.79,138.31 L429.30,180.92 L439.82,185.29 L448.60,196.82 L457.84,197.25 L466.99,198.82 L476.41,197.69 L486.10,197.95 L495.34,200.92 L504.86,199.26 L514.10,194.20" stroke="#F5A40C" stroke-width="1.6" fill="none" stroke-linejoin="round" clip-path="url(#cb2)"/><g fill="#F5A40C" stroke="#E89A08" stroke-width="0.7"><circle cx="326.57" cy="11.70" r="3.7"/><circle cx="335.81" cy="16.68" r="3.7"/><circle cx="345.05" cy="23.40" r="3.7"/><circle cx="354.65" cy="16.16" r="3.7"/><circle cx="364.17" cy="16.68" r="3.7"/><circle cx="373.41" cy="29.08" r="3.7"/><circle cx="382.65" cy="15.46" r="3.7"/><circle cx="392.25" cy="45.32" r="3.7"/><circle cx="402.04" cy="56.67" r="3.7"/><circle cx="411.00" cy="104.43" r="3.7"/><circle cx="420.79" cy="138.31" r="3.7"/><circle cx="429.30" cy="180.92" r="3.7"/><circle cx="439.82" cy="185.29" r="3.7"/><circle cx="448.60" cy="196.82" r="3.7"/><circle cx="457.84" cy="197.25" r="3.7"/><circle cx="514.10" cy="194.20" r="3.7"/></g><rect x="319.2" y="233.6" width="195.20" height="195.20" fill="none" stroke="#000" stroke-width="2" stroke-linejoin="round"/><path d="M338.72,428.80 V423.60 M377.76,428.80 V425.80 M416.80,428.80 V423.60 M455.84,428.80 V425.80 M494.88,428.80 V423.60" stroke="#000" stroke-width="1.7" fill="none"/><g fill="#6616D0" stroke="#5210A8" stroke-width="0.7"><circle cx="326.20" cy="249.80" r="3.8"/><circle cx="339.12" cy="251.40" r="3.8"/><circle cx="352.04" cy="246.90" r="3.8"/><circle cx="364.96" cy="249.00" r="3.8"/><circle cx="377.88" cy="262.70" r="3.8"/><circle cx="390.80" cy="273.00" r="3.8"/><circle cx="403.72" cy="295.60" r="3.8"/><circle cx="416.64" cy="333.80" r="3.8"/><circle cx="429.56" cy="392.30" r="3.8"/><circle cx="442.48" cy="417.60" r="3.8"/></g><path d="M319.20,249.83 L319.70,249.83 L320.20,249.83 L320.70,249.83 L321.20,249.83 L321.70,249.84 L322.20,249.84 L322.70,249.84 L323.20,249.84 L323.70,249.84 L324.20,249.84 L324.70,249.85 L325.20,249.85 L325.70,249.85 L326.20,249.85 L326.70,249.86 L327.20,249.86 L327.70,249.86 L328.20,249.86 L328.70,249.87 L329.20,249.87 L329.70,249.87 L330.20,249.88 L330.70,249.88 L331.20,249.88 L331.70,249.89 L332.20,249.89 L332.70,249.90 L333.20,249.90 L333.70,249.91 L334.20,249.91 L334.70,249.92 L335.20,249.92 L335.70,249.93 L336.20,249.93 L336.70,249.94 L337.20,249.94 L337.70,249.95 L338.20,249.96 L338.70,249.97 L339.20,249.97 L339.70,249.98 L340.20,249.99 L340.70,250.00 L341.20,250.01 L341.70,250.02 L342.20,250.03 L342.70,250.04 L343.20,250.05 L343.70,250.06 L344.20,250.07 L344.70,250.09 L345.20,250.10 L345.70,250.11 L346.20,250.13 L346.70,250.14 L347.20,250.16 L347.70,250.18 L348.20,250.19 L348.70,250.21 L349.20,250.23 L349.70,250.25 L350.20,250.27 L350.70,250.29 L351.20,250.32 L351.70,250.34 L352.20,250.37 L352.70,250.39 L353.20,250.42 L353.70,250.45 L354.20,250.48 L354.70,250.51 L355.20,250.54 L355.70,250.58 L356.20,250.61 L356.70,250.65 L357.20,250.69 L357.70,250.73 L358.20,250.77 L358.70,250.82 L359.20,250.87 L359.70,250.91 L360.20,250.97 L360.70,251.02 L361.20,251.08 L361.70,251.14 L362.20,251.20 L362.70,251.26 L363.20,251.33 L363.70,251.40 L364.20,251.47 L364.70,251.55 L365.20,251.63 L365.70,251.71 L366.20,251.80 L366.70,251.89 L367.20,251.99 L367.70,252.09 L368.20,252.20 L368.70,252.31 L369.20,252.42 L369.70,252.54 L370.20,252.67 L370.70,252.80 L371.20,252.93 L371.70,253.08 L372.20,253.23 L372.70,253.38 L373.20,253.55 L373.70,253.72 L374.20,253.89 L374.70,254.08 L375.20,254.27 L375.70,254.48 L376.20,254.69 L376.70,254.91 L377.20,255.14 L377.70,255.38 L378.20,255.63 L378.70,255.89 L379.20,256.17 L379.70,256.45 L380.20,256.75 L380.70,257.06 L381.20,257.38 L381.70,257.72 L382.20,258.07 L382.70,258.44 L383.20,258.82 L383.70,259.22 L384.20,259.63 L384.70,260.06 L385.20,260.51 L385.70,260.98 L386.20,261.46 L386.70,261.97 L387.20,262.49 L387.70,263.04 L388.20,263.61 L388.70,264.20 L389.20,264.81 L389.70,265.45 L390.20,266.11 L390.70,266.80 L391.20,267.51 L391.70,268.25 L392.20,269.01 L392.70,269.81 L393.20,270.63 L393.70,271.48 L394.20,272.36 L394.70,273.27 L395.20,274.22 L395.70,275.19 L396.20,276.20 L396.70,277.24 L397.20,278.31 L397.70,279.42 L398.20,280.56 L398.70,281.73 L399.20,282.94 L399.70,284.19 L400.20,285.47 L400.70,286.78 L401.20,288.14 L401.70,289.52 L402.20,290.95 L402.70,292.40 L403.20,293.90 L403.70,295.42 L404.20,296.99 L404.70,298.58 L405.20,300.21 L405.70,301.88 L406.20,303.57 L406.70,305.29 L407.20,307.05 L407.70,308.83 L408.20,310.65 L408.70,312.48 L409.20,314.35 L409.70,316.24 L410.20,318.15 L410.70,320.08 L411.20,322.03 L411.70,323.99 L412.20,325.97 L412.70,327.97 L413.20,329.98 L413.70,331.99 L414.20,334.02 L414.70,336.05 L415.20,338.08 L415.70,340.11 L416.20,342.15 L416.70,344.18 L417.20,346.20 L417.70,348.22 L418.20,350.23 L418.70,352.23 L419.20,354.21 L419.70,356.18 L420.20,358.13 L420.70,360.07 L421.20,361.98 L421.70,363.88 L422.20,365.74 L422.70,367.59 L423.20,369.41 L423.70,371.20 L424.20,372.96 L424.70,374.69 L425.20,376.39 L425.70,378.06 L426.20,379.69 L426.70,381.30 L427.20,382.87 L427.70,384.40 L428.20,385.90 L428.70,387.37 L429.20,388.80 L429.70,390.19 L430.20,391.55 L430.70,392.87 L431.20,394.16 L431.70,395.41 L432.20,396.63 L432.70,397.81 L433.20,398.96 L433.70,400.07 L434.20,401.15 L434.70,402.20 L435.20,403.21 L435.70,404.19 L436.20,405.14 L436.70,406.06 L437.20,406.94 L437.70,407.80 L438.20,408.63 L438.70,409.43 L439.20,410.20 L439.70,410.94 L440.20,411.66 L440.70,412.35 L441.20,413.02 L441.70,413.66 L442.20,414.28 L442.70,414.88 L443.20,415.45 L443.70,416.00 L444.20,416.53 L444.70,417.04 L445.20,417.53 L445.70,418.00 L446.20,418.45 L446.70,418.89 L447.20,419.30 L447.70,419.70 L448.20,420.09 L448.70,420.46 L449.20,420.81 L449.70,421.15 L450.20,421.48 L450.70,421.79 L451.20,422.09 L451.70,422.38 L452.20,422.65 L452.70,422.92 L453.20,423.17 L453.70,423.41 L454.20,423.64 L454.70,423.87 L455.20,424.08 L455.70,424.29 L456.20,424.48 L456.70,424.67 L457.20,424.85 L457.70,425.02 L458.20,425.18 L458.70,425.34 L459.20,425.49 L459.70,425.64 L460.20,425.78 L460.70,425.91 L461.20,426.03 L461.70,426.16 L462.20,426.27 L462.70,426.38 L463.20,426.49 L463.70,426.59 L464.20,426.69 L464.70,426.78 L465.20,426.87 L465.70,426.95 L466.20,427.03 L466.70,427.11 L467.20,427.19 L467.70,427.26 L468.20,427.33 L468.70,427.39 L469.20,427.45 L469.70,427.51 L470.20,427.57 L470.70,427.62 L471.20,427.68 L471.70,427.73 L472.20,427.77 L472.70,427.82 L473.20,427.86 L473.70,427.90 L474.20,427.94 L474.70,427.98 L475.20,428.02 L475.70,428.05 L476.20,428.08 L476.70,428.12 L477.20,428.15 L477.70,428.18 L478.20,428.20 L478.70,428.23 L479.20,428.25 L479.70,428.28 L480.20,428.30 L480.70,428.32 L481.20,428.35 L481.70,428.37 L482.20,428.38 L482.70,428.40 L483.20,428.42 L483.70,428.44 L484.20,428.45 L484.70,428.47 L485.20,428.48 L485.70,428.50 L486.20,428.51 L486.70,428.52 L487.20,428.54 L487.70,428.55 L488.20,428.56 L488.70,428.57 L489.20,428.58 L489.70,428.59 L490.20,428.60 L490.70,428.61 L491.20,428.62 L491.70,428.62 L492.20,428.63 L492.70,428.64 L493.20,428.65 L493.70,428.65 L494.20,428.66 L494.70,428.67 L495.20,428.67 L495.70,428.68 L496.20,428.68 L496.70,428.69 L497.20,428.69 L497.70,428.70 L498.20,428.70 L498.70,428.71 L499.20,428.71 L499.70,428.72 L500.20,428.72 L500.70,428.72 L501.20,428.73 L501.70,428.73 L502.20,428.73 L502.70,428.74 L503.20,428.74 L503.70,428.74 L504.20,428.74 L504.70,428.75 L505.20,428.75 L505.70,428.75 L506.20,428.75 L506.70,428.76 L507.20,428.76 L507.70,428.76 L508.20,428.76 L508.70,428.76 L509.20,428.76 L509.70,428.77 L510.20,428.77 L510.70,428.77 L511.20,428.77 L511.70,428.77 L512.20,428.77 L512.70,428.77 L513.20,428.78 L513.70,428.78 L514.20,428.78" stroke="#000" stroke-width="2" fill="none"/><g fill="#6616D0" stroke="#5210A8" stroke-width="0.7"><circle cx="455.40" cy="427.10" r="3.8"/><circle cx="468.32" cy="427.80" r="3.8"/><circle cx="481.24" cy="428.50" r="3.8"/><circle cx="494.16" cy="427.80" r="3.8"/><circle cx="507.08" cy="428.90" r="3.8"/></g><text x="80.80" y="450.3" style="font-family:'Liberation Serif',serif;font-size:17.4px;fill:#000" text-anchor="middle" >-0.03</text><text x="144.85" y="450.3" style="font-family:'Liberation Serif',serif;font-size:17.4px;fill:#000" text-anchor="middle" >0</text><text x="208.90" y="450.3" style="font-family:'Liberation Serif',serif;font-size:17.4px;fill:#000" text-anchor="middle" >0.03</text><text x="359.96" y="218.2" style="font-family:'Liberation Serif',serif;font-size:17.4px;fill:#000" text-anchor="middle" >-0.03</text><text x="418.55" y="218.2" style="font-family:'Liberation Serif',serif;font-size:17.4px;fill:#000" text-anchor="middle" >0</text><text x="477.14" y="218.2" style="font-family:'Liberation Serif',serif;font-size:17.4px;fill:#000" text-anchor="middle" >0.03</text><text x="338.72" y="450.3" style="font-family:'Liberation Serif',serif;font-size:17.4px;fill:#000" text-anchor="middle" >-0.2</text><text x="416.80" y="450.3" style="font-family:'Liberation Serif',serif;font-size:17.4px;fill:#000" text-anchor="middle" >0</text><text x="494.88" y="450.3" style="font-family:'Liberation Serif',serif;font-size:17.4px;fill:#000" text-anchor="middle" >0.2</text><text x="145.2" y="481" style="font-family:'Liberation Serif',serif;font-size:17.6px;fill:#000" text-anchor="middle">E-E<tspan style="font-size:13px" dy="3.8">F</tspan><tspan dy="-3.8"> (eV)</tspan></text><text x="416.5" y="481" style="font-family:'Liberation Serif',serif;font-size:17.6px;fill:#000" text-anchor="middle">E-E<tspan style="font-size:13px" dy="3.8">F</tspan><tspan dy="-3.8"> (eV)</tspan></text><text x="181" y="34.2" style="font-family:'Liberation Serif',serif;font-size:25px;fill:#000" text-anchor="start" letter-spacing="-0.5">T=8K</text><text x="156.5" y="141" style="font-family:'Liberation Serif',serif;font-size:15.9px;fill:#E0B452" text-anchor="start" >h&#957;=25.3 eV</text><text x="155.5" y="160.7" style="font-family:'Liberation Serif',serif;font-size:15.9px;fill:#E0B452" text-anchor="start" >&#916;E=18.2 meV</text><text x="164.2" y="269.8" style="font-family:'Liberation Serif',serif;font-size:14px;fill:#C8323C" text-anchor="start" >h&#957;=18.1 eV</text><text x="164.2" y="286.8" style="font-family:'Liberation Serif',serif;font-size:14px;fill:#C8323C" text-anchor="start" >&#916;E=13.9 meV</text><text x="170" y="373.5" style="font-family:'Liberation Serif',serif;font-size:14px;fill:#2E2EA8" text-anchor="start" >h&#957;=10.8 eV</text><text x="170" y="391.2" style="font-family:'Liberation Serif',serif;font-size:14px;fill:#2E2EA8" text-anchor="start" >&#916;E=8.9 meV</text><text x="416.5" y="266.9" style="font-family:'Liberation Serif',serif;font-size:14px;fill:#6432A8" text-anchor="start" >h&#957;=32.5 eV</text><text x="416.5" y="284.5" style="font-family:'Liberation Serif',serif;font-size:14px;fill:#6432A8" text-anchor="start" >&#916;E=110.5 meV</text><g transform="translate(0.6,0) scale(0.85,1)"><text x="0" y="21.5" style="font-family:'Liberation Sans',sans-serif;font-size:25px;fill:#000" text-anchor="start" stroke="#000" stroke-width="0.2">a</text></g><text x="17.0" y="21.5" style="font-family:'Liberation Sans',sans-serif;font-size:25px;fill:#000" text-anchor="start" stroke="#000" stroke-width="0.2">)</text><text x="283.5" y="21.5" style="font-family:'Liberation Sans',sans-serif;font-size:25px;fill:#000" text-anchor="start" stroke="#000" stroke-width="0.2">b</text><text x="299.5" y="21.5" style="font-family:'Liberation Sans',sans-serif;font-size:25px;fill:#000" text-anchor="start" stroke="#000" stroke-width="0.2">)</text><text x="284.5" y="252.1" style="font-family:'Liberation Sans',sans-serif;font-size:25px;fill:#000" text-anchor="start" stroke="#000" stroke-width="0.2">c</text><text x="299.0" y="252.1" style="font-family:'Liberation Sans',sans-serif;font-size:25px;fill:#000" text-anchor="start" stroke="#000" stroke-width="0.2">)</text></svg>
</body></html>
